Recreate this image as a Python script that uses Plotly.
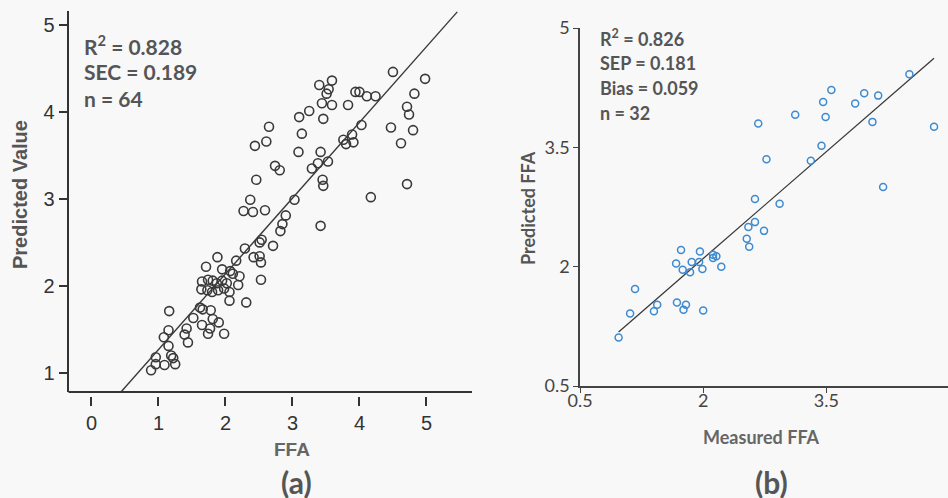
import plotly.graph_objects as go

# ---------------- Panel (a): FFA vs Predicted Value ----------------
ffa_a = [4.50, 4.98, 3.59, 3.40, 3.54, 3.51, 3.94, 4.00, 4.11, 4.24, 4.82, 3.44, 3.59, 3.83,
         4.71, 4.74, 3.25, 3.10, 3.46, 4.03, 4.47, 4.80, 2.65, 3.14, 3.89, 3.76, 3.80, 3.91,
         2.44, 2.61, 4.62, 3.09, 3.42, 3.53, 3.38, 3.29, 2.74, 2.81, 2.46, 3.45, 3.46, 4.71,
         4.17, 3.03, 2.37, 2.27, 2.41, 2.59, 2.90, 2.85, 2.82, 3.42, 2.54, 2.51, 2.71, 2.29,
         1.88, 2.16, 2.42, 2.51, 2.53, 1.71, 1.95, 2.07, 2.11, 2.21, 2.53, 1.65, 1.74, 1.81,
         1.87, 1.95, 2.02, 2.19, 1.64, 1.73, 1.80, 1.89, 1.98, 2.06, 2.06, 2.31, 1.16, 1.62,
         1.66, 1.78, 1.52, 1.81, 1.90, 1.65, 1.77, 1.42, 1.98, 1.74, 1.39, 1.44, 1.15, 1.08,
         1.15, 0.96, 1.19, 1.22, 0.96, 1.09, 1.25, 0.89]
pred_a = [4.46, 4.38, 4.36, 4.31, 4.26, 4.21, 4.23, 4.23, 4.18, 4.18, 4.21, 4.10, 4.08, 4.08,
          4.06, 3.97, 4.01, 3.94, 3.92, 3.85, 3.82, 3.79, 3.83, 3.75, 3.74, 3.68, 3.63, 3.65,
          3.61, 3.66, 3.64, 3.54, 3.54, 3.43, 3.41, 3.35, 3.38, 3.33, 3.22, 3.22, 3.15, 3.17,
          3.02, 2.99, 2.99, 2.86, 2.85, 2.87, 2.81, 2.71, 2.63, 2.69, 2.53, 2.50, 2.46, 2.43,
          2.33, 2.29, 2.33, 2.34, 2.27, 2.22, 2.19, 2.17, 2.14, 2.11, 2.07, 2.05, 2.07, 2.06,
          2.03, 2.06, 2.03, 2.01, 1.96, 1.95, 1.93, 1.95, 1.97, 1.93, 1.83, 1.81, 1.71, 1.75,
          1.73, 1.72, 1.63, 1.62, 1.58, 1.55, 1.51, 1.51, 1.45, 1.45, 1.44, 1.35, 1.49, 1.41,
          1.31, 1.18, 1.20, 1.17, 1.10, 1.09, 1.10, 1.03]
fit_a_x = [0.44, 5.46]
fit_a_y = [0.78, 5.15]
ticks_a_x = [0, 1, 2, 3, 4, 5]
ticks_a_y = [1, 2, 3, 4, 5]
stats_a = ["R<sup>2</sup> = 0.828", "SEC = 0.189", "n = 64"]

# ---------------- Panel (b): Measured FFA vs Predicted FFA ----------------
meas_b = [4.51, 3.56, 3.96, 4.13, 3.46, 3.85, 3.12, 3.49, 2.67, 4.06, 4.81, 3.44, 2.77, 3.31,
          4.19, 2.63, 2.93, 2.63, 2.55, 2.74, 2.53, 2.56, 1.73, 1.96, 2.12, 2.16, 2.12, 1.67,
          1.86, 1.95, 2.22, 1.75, 1.84, 1.99, 1.17, 1.68, 1.44, 1.79, 1.40, 1.76, 2.00, 1.11,
          0.97]
pred_b = [4.42, 4.22, 4.18, 4.15, 4.07, 4.05, 3.91, 3.88, 3.80, 3.82, 3.76, 3.52, 3.35, 3.33,
          3.00, 2.85, 2.79, 2.56, 2.50, 2.45, 2.35, 2.25, 2.21, 2.19, 2.15, 2.13, 2.11, 2.04,
          2.06, 2.06, 2.00, 1.96, 1.93, 1.97, 1.72, 1.55, 1.52, 1.52, 1.44, 1.46, 1.45, 1.41,
          1.11]
fit_b_x = [0.97, 4.81]
fit_b_y = [1.18, 4.62]
ticks_b = [0.5, 2, 3.5, 5]
stats_b = ["R<sup>2</sup> = 0.826", "SEP = 0.181", "Bias = 0.059", "n = 32"]

W, H = 948, 498
def px(x):
    return x / W
def py(y):
    return 1 - y / H

fig = go.Figure()
fig.add_trace(go.Scatter(x=fit_a_x, y=fit_a_y, mode="lines",
                         line=dict(color="#3a3a3a", width=1.4), xaxis="x", yaxis="y",
                         showlegend=False, hoverinfo="skip"))
fig.add_trace(go.Scatter(x=ffa_a, y=pred_a, mode="markers",
                         marker=dict(symbol="circle-open", size=9, color="#3a3a3a",
                                     line=dict(width=1.6, color="#3a3a3a")),
                         xaxis="x", yaxis="y", showlegend=False))
fig.add_trace(go.Scatter(x=fit_b_x, y=fit_b_y, mode="lines",
                         line=dict(color="#3a3a3a", width=1.3), xaxis="x2", yaxis="y2",
                         showlegend=False, hoverinfo="skip"))
fig.add_trace(go.Scatter(x=meas_b, y=pred_b, mode="markers",
                         marker=dict(symbol="circle-open", size=7, color="#3d8ad0",
                                     line=dict(width=1.5, color="#3d8ad0")),
                         xaxis="x2", yaxis="y2", showlegend=False))

tick_font_a = dict(family="Liberation Sans, Arial", size=20, color="#333333")
tick_font_b = dict(family="Lato, Liberation Sans", size=18, color="#444444")

fig.update_layout(
    width=W, height=H,
    margin=dict(l=0, r=0, t=0, b=0, autoexpand=False),
    paper_bgcolor="#f8f8f8", plot_bgcolor="rgba(0,0,0,0)",
    xaxis=dict(domain=[px(68.5), px(472)], range=[-0.343, 5.68],
               anchor="free", position=py(396), automargin=False,
               showline=False, showgrid=False, zeroline=False,
               tickvals=ticks_a_x, ticks="outside", ticklen=9, tickwidth=1.6,
               tickcolor="#333333", tickfont=tick_font_a),
    yaxis=dict(domain=[py(392), py(11)], range=[0.78, 5.16], anchor="x", automargin=False,
               showline=True, linecolor="#333333", linewidth=2,
               showgrid=False, zeroline=False,
               tickvals=ticks_a_y, ticks="outside", ticklen=8, tickwidth=1.6,
               tickcolor="#333333", tickfont=tick_font_a),
    xaxis2=dict(domain=[px(580), 1.0], range=[0.5, 4.98], anchor="y2", automargin=False,
                showline=True, linecolor="#444444", linewidth=1.6,
                showgrid=False, zeroline=False, ticklabelstandoff=-7,
                tickvals=ticks_b, ticks="outside", ticklen=5, tickwidth=1.2,
                tickcolor="#444444", tickfont=tick_font_b),
    yaxis2=dict(domain=[py(386), py(28)], range=[0.5, 5.0], anchor="x2", automargin=False,
                showline=True, linecolor="#444444", linewidth=1.6,
                showgrid=False, zeroline=False,
                tickvals=ticks_b, ticks="outside", ticklen=5, tickwidth=1.2,
                tickcolor="#444444", tickfont=tick_font_b),
    shapes=[dict(type="line", xref="x domain", yref="y domain", x0=0, x1=1, y0=0, y1=0,
                 line=dict(color="#333333", width=2))],
)

ann = []
stat_font_a = dict(family="Lato, Liberation Sans", size=21, color="#555555")
for i, t in enumerate(stats_a):
    ann.append(dict(text="<b>" + t + "</b>", x=px(82), y=py(45 + 26.5 * i), xref="paper", yref="paper",
                    xanchor="left", yanchor="middle", showarrow=False, font=stat_font_a))
stat_font_b = dict(family="Lato, Liberation Sans", size=18, color="#555555")
for i, t in enumerate(stats_b):
    ann.append(dict(text="<b>" + t + "</b>", x=px(598), y=py(38 + 25 * i), xref="paper", yref="paper",
                    xanchor="left", yanchor="middle", showarrow=False, font=stat_font_b))

def label(text, x, y, size, family, color, angle=0):
    return dict(text=text, x=px(x), y=py(y), xref="paper", yref="paper",
                xanchor="center", yanchor="middle", textangle=angle, showarrow=False,
                font=dict(family=family, size=size, color=color))

ann.append(label("<b>Predicted Value</b>", 20, 195, 20, "Liberation Sans, Arial", "#555555", -90))
ann.append(label("<b>FFA</b>", 292, 449, 19, "Liberation Sans, Arial", "#666666"))
ann.append(label("<b>(a)</b>", 296, 482, 30, "Lato, Liberation Sans", "#555555"))
ann.append(label("<b>Predicted FFA</b>", 528, 208, 18, "Lato, Liberation Sans", "#555555", -90))
ann.append(label("<b>Measured FFA</b>", 761, 437, 18, "Lato, Liberation Sans", "#666666"))
ann.append(label("<b>(b)</b>", 771, 482, 30, "Lato, Liberation Sans", "#555555"))
fig.update_layout(annotations=ann)

fig.write_html("out.html", config={"displayModeBar": False},
               post_script="document.body.style.margin='0';document.body.style.overflow='hidden';")
